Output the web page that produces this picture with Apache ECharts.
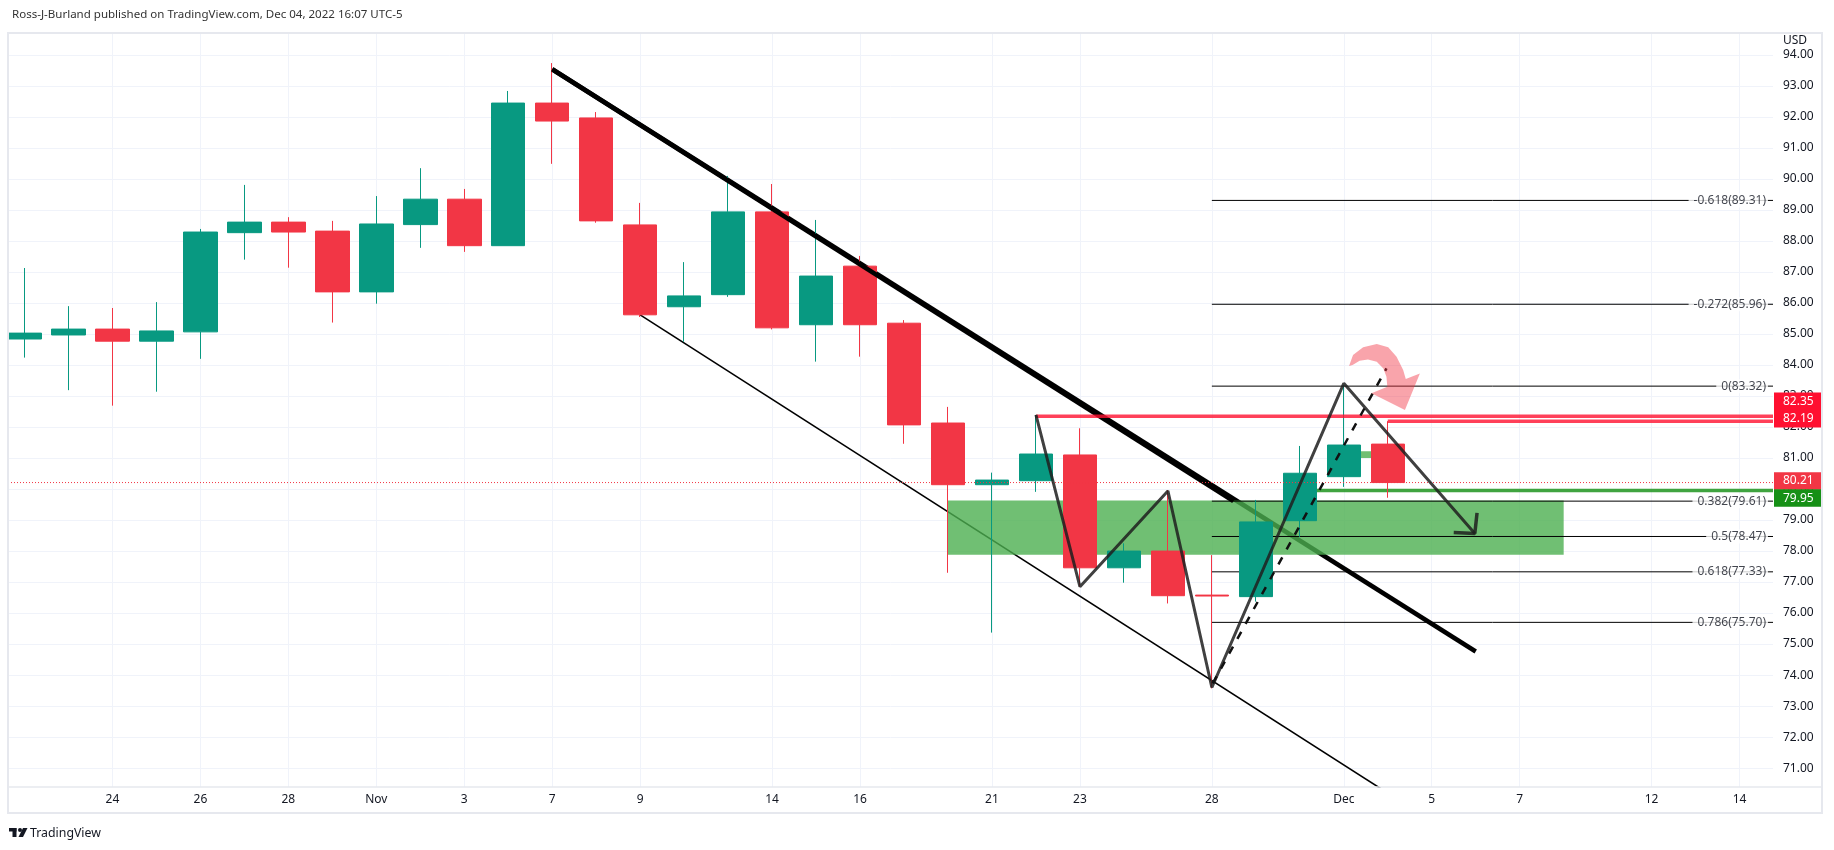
<!DOCTYPE html>
<html>
<head>
<meta charset="utf-8">
<script src="https://cdn.jsdelivr.net/npm/echarts@6/dist/echarts.min.js"></script>
<style>
html,body{margin:0;padding:0;background:#fff;}
#c{width:1834px;height:850px;}
</style>
</head>
<body>
<div id="c"></div>
<script>
// ---------------- DATA ----------------
const dayIndex = [0,1,2,3,4,5,6,7,8,9,10,11,12,13,14,15,16,17,18,19,20,21,22,23,24,25,26,27,28,29,30,31];
const dayNames = ['Oct 20','Oct 21','Oct 24','Oct 25','Oct 26','Oct 27','Oct 28','Oct 31','Nov 1','Nov 2','Nov 3','Nov 4','Nov 7','Nov 8','Nov 9','Nov 10','Nov 11','Nov 14','Nov 15','Nov 16','Nov 17','Nov 18','Nov 21','Nov 22','Nov 23','Nov 24','Nov 25','Nov 28','Nov 29','Nov 30','Dec 1','Dec 2'];
const opens  = [84.84,84.97,85.16,84.77,85.07,88.27,88.61,88.32,86.36,88.53,89.35,87.85,92.45,91.97,88.52,85.88,86.27,88.94,85.30,87.19,85.35,82.13,80.14,80.27,81.10,77.46,78.00,76.58,76.53,78.98,80.40,81.45];
const highs  = [87.13,85.90,85.84,86.03,88.39,89.81,88.77,88.65,89.45,90.35,89.68,92.84,93.74,92.16,89.23,87.32,90.10,89.84,88.68,87.52,85.45,82.65,80.53,82.39,81.96,78.25,79.97,77.87,79.65,81.39,83.35,82.19];
const lows   = [84.24,83.19,82.69,83.14,84.20,87.40,87.14,85.37,85.98,87.78,87.65,87.85,90.49,88.59,85.55,84.75,86.20,85.15,84.11,84.27,81.46,77.30,75.37,79.91,76.85,76.98,76.31,73.57,76.37,78.46,80.07,79.72];
const closes = [85.03,85.16,84.77,85.10,88.29,88.61,88.29,86.36,88.55,89.35,87.85,92.45,91.87,88.65,85.62,86.23,88.94,85.20,86.87,85.30,82.07,80.14,80.29,81.13,77.46,78.00,76.56,76.55,78.94,80.51,81.42,80.21];

const xTickIndex  = [2,4,6,8,10,12,14,17,19,22,24,27,30,32,34,37,39];
const xTickLabels = ['24','26','28','Nov','3','7','9','14','16','21','23','28','Dec','5','7','12','14'];
const yTicks = [71,72,73,74,75,76,77,78,79,80,81,82,83,84,85,86,87,88,89,90,91,92,93,94];

const fibLevels = ['-0.618','-0.272','0','0.382','0.5','0.618','0.786'];
const fibPrices = [89.31,85.96,83.32,79.61,78.47,77.33,75.70];
const fibStartIndex = 27;

const thickTrend = [[12,93.54],[33,74.76]];
const thickTrendAboveZone = [[12,93.54],[27.49,79.61]];
const channelLine = [[14,85.62],[31.5,69.74]];
const zigzag = [[23,82.39],[24,76.85],[26,79.94],[27,73.60],[30,83.41],[32.98,78.57]];
const arrowHead = [[32.50,78.60],[32.98,78.57],[33.03,79.23]];
const dashedPath = [[27.02,73.73],[30.97,83.89]];

const zoneIndex = [21,35];
const zonePrice = [77.88,79.63];
const smallZoneIndex = [30,31];
const smallZonePrice = [81.00,81.22];

const redLevel1 = [23,82.35];
const redLevel2 = [31,82.19];
const greenLevel = [29,79.95];
const lastPrice = 80.21;

const pinkArrow = [[30.12,83.97],[30.21,84.32],[30.44,84.57],[30.75,84.68],[31.01,84.57],[31.20,84.27],[31.35,83.84],[31.41,83.55],[31.73,83.73],[31.39,82.55],[30.63,83.09],[30.99,83.30],[30.97,83.62],[30.90,83.89],[30.75,84.11],[30.55,84.18],[30.36,84.14],[30.20,84.00]];

// ---------------- CHART ----------------
const FONT = "'Noto Sans', 'DejaVu Sans', sans-serif";
const xMin = -0.375, xMax = 39.76, yMin = 70.39, yMax = 94.71;
const UP = '#089981', DOWN = '#f23645';

function lineSeries(pts, color, width, z, type) {
  return {type:'line', data: pts, symbol:'none', silent:true, animation:false, clip:true,
    lineStyle:{color:color, width:width, type: type || 'solid', cap:'butt'}, z:z};
}
function rectSeries(ix, py, fill, z) {
  return {type:'custom', silent:true, z:z, data:[[ix[0], py[0], ix[1], py[1]]],
    renderItem: function(params, api){
      const a = api.coord([api.value(0), api.value(1)]);
      const b = api.coord([api.value(2), api.value(3)]);
      return {type:'rect', shape:{x:a[0], y:b[1], width:b[0]-a[0], height:a[1]-b[1]}, style:{fill:fill}};
    }};
}

const candleData = dayIndex.map((d,i)=>[d, opens[i], closes[i], lows[i], highs[i]]);

const series = [];
series.push(lineSeries(thickTrend, '#000', 4.5, 1));
series.push(lineSeries(channelLine, '#000', 1.6, 1));
series.push(rectSeries(zoneIndex, zonePrice, 'rgba(76,175,80,0.8)', 2));
series.push(rectSeries(smallZoneIndex, smallZonePrice, 'rgba(76,175,80,0.8)', 2));
fibPrices.forEach(p => series.push(lineSeries([[fibStartIndex,p],[xMax,p]], '#000', 1, 3)));
series.push(lineSeries([greenLevel,[xMax,greenLevel[1]]], 'rgba(22,144,22,0.82)', 3.5, 3));
series.push({type:'candlestick', data:candleData, encode:{x:0, y:[1,2,3,4]}, barWidth:34, z:4, silent:true,
  itemStyle:{color:UP, color0:DOWN, borderColor:UP, borderColor0:DOWN, borderColorDoji:DOWN, borderWidth:1}});
series.push(lineSeries(thickTrendAboveZone, '#000', 4.5, 5));
series.push(lineSeries([[xMin,lastPrice],[xMax,lastPrice]], '#f23645', 1, 5, [1,2]));
series.push(lineSeries([redLevel1,[xMax,redLevel1[1]]], 'rgba(255,16,48,0.8)', 3.5, 6));
series.push(lineSeries([redLevel2,[xMax,redLevel2[1]]], 'rgba(255,16,48,0.8)', 3.5, 6));
series.push(lineSeries(zigzag, 'rgba(30,30,30,0.85)', 3, 6));
series.push(lineSeries(arrowHead, 'rgba(30,30,30,0.85)', 3.5, 6));
series.push(lineSeries(dashedPath, '#111', 2.5, 6, [8,9]));
series.push({type:'custom', silent:true, z:7, data:[[0]],
  renderItem: function(params, api){
    const pts = pinkArrow.map(p => api.coord(p));
    return {type:'polygon', shape:{points:pts}, style:{fill:'rgba(242,54,69,0.45)'}};
  }});
series.push({type:'scatter', silent:true, z:8, clip:false, symbolSize:0,
  data: fibPrices.map((p,i)=>[xMax, p, fibLevels[i] + '(' + p.toFixed(2) + ')']),
  label:{show:true, position:'left', distance:5, formatter: d => d.value[2],
    color:'#131722', fontSize:12, fontFamily:FONT, backgroundColor:'#fff', padding:[1,2,1,5]}});

const option = {
  animation:false,
  backgroundColor:'#fff',
  textStyle:{fontFamily:FONT},
  grid:{left:8, right:61, top:33, bottom:63, containLabel:false},
  xAxis:{type:'value', min:xMin, max:xMax,
    axisLine:{show:false}, axisTick:{show:false, customValues:xTickIndex},
    axisLabel:{customValues:xTickIndex, formatter: v => xTickLabels[xTickIndex.indexOf(v)], color:'#131722', fontSize:12, margin:7, fontFamily:FONT},
    splitLine:{show:true, lineStyle:{color:'#f0f3fa', width:1}}},
  yAxis:{type:'value', position:'right', min:yMin, max:yMax,
    axisLine:{show:false}, axisTick:{show:false, customValues:yTicks},
    axisLabel:{customValues:yTicks, formatter: v => v.toFixed(2), color:'#131722', fontSize:12, margin:10, fontFamily:FONT},
    splitLine:{show:true, lineStyle:{color:'#f0f3fa', width:1}}},
  series: series
};

const chart = echarts.init(document.getElementById('c'), null, {renderer:'canvas'});
chart.setOption(option);

// ---------- price-scale labels, frame, header, logo ----------
function fitFont(text, target, base) {
  const c = document.createElement('canvas').getContext('2d');
  c.font = base + 'px ' + FONT;
  const w = c.measureText(text).width;
  return base * target / w;
}
const plotRight = chart.convertToPixel({xAxisIndex:0}, xMax);
const priceTags = [
  {v:82.35, bg:'#ff1030', nudge:-15},
  {v:82.19, bg:'#ff1030', nudge:-2.5},
  {v:lastPrice, bg:'#f23645', nudge:-1.5},
  {v:79.95, bg:'#169016', nudge:7.5}
];
const graphics = [];
graphics.push({type:'rect', z:100, shape:{x:8, y:33, width:1814, height:780}, style:{fill:null, stroke:'#e6e8ee', lineWidth:2}});
graphics.push({type:'line', z:100, shape:{x1:8, y1:787, x2:1822, y2:787}, style:{stroke:'#e6e8ee', lineWidth:1.5}});
priceTags.forEach((t,i) => {
  const y = chart.convertToPixel({yAxisIndex:0}, t.v) + t.nudge;
  graphics.push({type:'rect', z:101, shape:{x:plotRight+1, y:y-8.75, width:47, height:17.5}, style:{fill:t.bg}});
  graphics.push({type:'text', z:102, x:plotRight+10, y:y, style:{text:t.v.toFixed(2), fill:'#fff', font:'12px '+FONT, verticalAlign:'middle', align:'left'}});
});
graphics.push({type:'text', z:102, x:plotRight+10, y:41, style:{text:'USD', fill:'#131722', font:'12px '+FONT, verticalAlign:'middle', align:'left', backgroundColor:'#fff', padding:[1,2,1,0]}});
const headerText = 'Ross-J-Burland published on TradingView.com, Dec 04, 2022 16:07 UTC-5';
graphics.push({type:'text', z:102, x:12, y:15, style:{text:headerText, fill:'#333', font: fitFont(headerText, 391, 12).toFixed(2)+'px '+FONT, verticalAlign:'middle', align:'left'}});
graphics.push({type:'rect', z:102, shape:{x:9, y:828, width:7.5, height:3.5}, style:{fill:'#131722'}});
graphics.push({type:'rect', z:102, shape:{x:12.5, y:828, width:4, height:9}, style:{fill:'#131722'}});
graphics.push({type:'circle', z:102, shape:{cx:20, cy:830, r:2}, style:{fill:'#131722'}});
graphics.push({type:'polygon', z:102, shape:{points:[[23,828],[27.5,828],[23,837],[18.5,837]]}, style:{fill:'#131722'}});
graphics.push({type:'text', z:102, x:30, y:833, style:{text:'TradingView', fill:'#131722', font: fitFont('TradingView', 71, 13).toFixed(2)+'px '+FONT, verticalAlign:'middle', align:'left'}});
chart.setOption({graphic: graphics});
</script>
</body>
</html>
